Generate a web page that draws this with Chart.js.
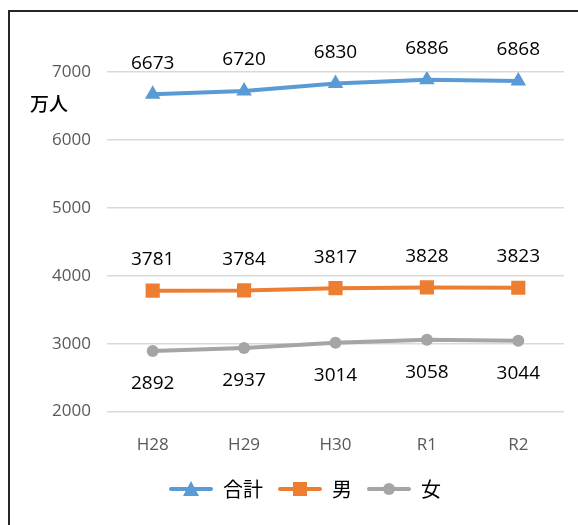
<!DOCTYPE html>
<html>
<head>
<meta charset="utf-8">
<script src="https://cdn.jsdelivr.net/npm/chart.js@4"></script>
<style>
  html, body { margin: 0; padding: 0; background: #fff; }
  .wrap { position: relative; width: 578px; height: 525px; }
  .frame { position: absolute; left: 8px; top: 10px; right: 0; bottom: 0;
           border-left: 2px solid #262626; border-top: 2px solid #262626; pointer-events: none; }
</style>
</head>
<body>
<div class="wrap">
  <canvas id="popChart" width="578" height="525"></canvas>
  <div class="frame"></div>
</div>
<script>
    const years = ['H28', 'H29', 'H30', 'R1', 'R2'];
    const totalVals = [6673, 6720, 6830, 6886, 6868];
    const maleVals = [3781, 3784, 3817, 3828, 3823];
    const femaleVals = [2892, 2937, 3014, 3058, 3044];
    const yTicks = [2000, 3000, 4000, 5000, 6000, 7000];
    const seriesNames = ['合計', '男', '女'];

    const BLUE = '#5b9bd5';
    const ORANGE = '#ed7d31';
    const GRAY = '#a5a5a5';
    const NUM_FONT = '"Open Sans", "Liberation Sans", sans-serif';
    const JP_FONT = '"Noto Sans CJK JP", "Noto Sans", sans-serif';

    // small line+marker swatch for the legend (blank margin on the left)
    function swatch(color, shape) {
      const c = document.createElement('canvas');
      c.width = 50; c.height = 18;
      const g = c.getContext('2d');
      g.strokeStyle = color; g.fillStyle = color;
      g.lineWidth = 4; g.lineCap = 'round';
      g.beginPath(); g.moveTo(8, 9); g.lineTo(48, 9); g.stroke();
      g.beginPath();
      if (shape === 'triangle') { g.moveTo(28, 1); g.lineTo(36, 16); g.lineTo(20, 16); g.closePath(); }
      else if (shape === 'rect') { g.rect(21, 2, 14, 14); }
      else { g.arc(28, 9, 6, 0, Math.PI * 2); }
      g.fill();
      return c;
    }

    const valueLabels = {
      id: 'valueLabels',
      afterDatasetsDraw(chart) {
        const ctx = chart.ctx;
        const offsets = [-31, -31, 33];
        ctx.save();
        ctx.font = '19px ' + NUM_FONT;
        ctx.fillStyle = '#000';
        ctx.textAlign = 'center';
        ctx.textBaseline = 'middle';
        chart.data.datasets.forEach((ds, i) => {
          chart.getDatasetMeta(i).data.forEach((pt, j) => {
            ctx.fillText(String(ds.data[j]), pt.x, pt.y + offsets[i]);
          });
        });
        // unit label
        ctx.font = '500 19px ' + JP_FONT;
        ctx.textAlign = 'left';
        ctx.fillText('万人', 30, 104);
        ctx.restore();
      }
    };

    const popChart = new Chart(document.getElementById('popChart'), {
      type: 'line',
      data: {
        labels: years,
        datasets: [
          { label: seriesNames[0], data: totalVals, borderColor: BLUE, backgroundColor: BLUE,
            borderWidth: 4, pointStyle: 'triangle', pointRadius: 9, pointBorderWidth: 0,
            legendSwatch: swatch(BLUE, 'triangle') },
          { label: seriesNames[1], data: maleVals, borderColor: ORANGE, backgroundColor: ORANGE,
            borderWidth: 4, pointStyle: 'rect', pointRadius: 10, pointBorderWidth: 0,
            legendSwatch: swatch(ORANGE, 'rect') },
          { label: seriesNames[2], data: femaleVals, borderColor: GRAY, backgroundColor: GRAY,
            borderWidth: 4, pointStyle: 'circle', pointRadius: 6, pointBorderWidth: 0,
            legendSwatch: swatch(GRAY, 'circle') }
        ]
      },
      options: {
        responsive: false,
        animation: false,
        layout: { padding: { top: 72, right: 14, bottom: 16, left: 40 } },
        plugins: {
          tooltip: { enabled: false },
          legend: {
            position: 'bottom',
            labels: {
              usePointStyle: true,
              pointStyleWidth: 50,
              padding: 9,
              color: '#000',
              font: { family: JP_FONT, size: 20 },
              generateLabels: chart => chart.data.datasets.map((ds, i) => ({
                text: ds.label,
                pointStyle: ds.legendSwatch,
                fillStyle: ds.borderColor,
                strokeStyle: ds.borderColor,
                lineWidth: 0,
                fontColor: '#000',
                datasetIndex: i
              }))
            }
          }
        },
        scales: {
          x: {
            offset: true,
            grid: { display: false },
            border: { display: false },
            ticks: { color: '#595959', padding: 15, font: { family: NUM_FONT, size: 17 } }
          },
          y: {
            min: 2000, max: 7000,
            afterFit: s => { s.width = 67; },
            afterBuildTicks: s => { s.ticks = yTicks.map(v => ({ value: v })); },
            grid: { color: '#d9d9d9', lineWidth: 1.5, drawTicks: false },
            border: { display: false },
            ticks: { color: '#595959', padding: 16, font: { family: NUM_FONT, size: 17 },
                     callback: v => String(v) }
          }
        }
      },
      plugins: [valueLabels]
    });
</script>
</body>
</html>
